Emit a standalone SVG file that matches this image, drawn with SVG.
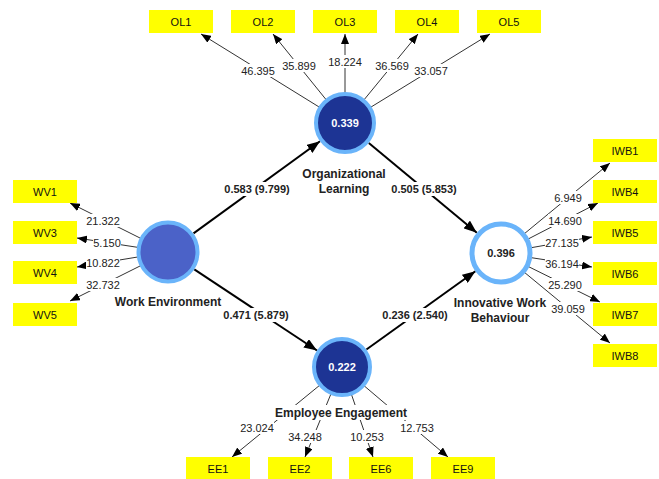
<svg xmlns="http://www.w3.org/2000/svg" width="659" height="479" viewBox="0 0 659 479">
<style>
text{font-family:"Liberation Sans",Arial,sans-serif;}
.box{fill:#ffff00;}
.bt{font-size:11px;fill:#111;text-anchor:middle;}
.ind{stroke:#333;stroke-width:1;fill:none;marker-end:url(#ah);}
.path{stroke:#000;stroke-width:2;fill:none;marker-end:url(#ahb);}
.num{font-size:11px;fill:#222;text-anchor:middle;}
.pl{font-size:11px;font-weight:bold;fill:#222;text-anchor:middle;}
.nl{font-size:12px;font-weight:bold;fill:#222;text-anchor:middle;}
.bg{fill:#fff;}
.val{font-size:11px;font-weight:bold;text-anchor:middle;}
</style>
<defs>
<marker id="ah" markerWidth="10" markerHeight="8" refX="10" refY="4" orient="auto" markerUnits="userSpaceOnUse"><path d="M0,0 L10,4 L0,8 z" fill="#000"/></marker>
<marker id="ahb" markerWidth="13" markerHeight="10" refX="13" refY="5" orient="auto" markerUnits="userSpaceOnUse"><path d="M0,0 L13,5 L0,10 z" fill="#000"/></marker>
</defs>
<rect width="659" height="479" fill="#fff"/>
<g id="connectors">
<!-- OL indicators -->
<line class="ind" x1="345" y1="123" x2="201" y2="34"/>
<line class="ind" x1="345" y1="123" x2="273" y2="34"/>
<line class="ind" x1="345" y1="123" x2="345" y2="34"/>
<line class="ind" x1="345" y1="123" x2="418" y2="34"/>
<line class="ind" x1="345" y1="123" x2="490" y2="34"/>
<!-- WV indicators -->
<line class="ind" x1="168" y1="252" x2="70" y2="203"/>
<line class="ind" x1="168" y1="252" x2="77" y2="238"/>
<line class="ind" x1="168" y1="252" x2="77" y2="267"/>
<line class="ind" x1="168" y1="252" x2="70" y2="301"/>
<!-- IWB indicators -->
<line class="ind" x1="501" y1="253" x2="610" y2="163"/>
<line class="ind" x1="501" y1="253" x2="598" y2="203"/>
<line class="ind" x1="501" y1="253" x2="592" y2="237"/>
<line class="ind" x1="501" y1="253" x2="592" y2="267"/>
<line class="ind" x1="501" y1="253" x2="600" y2="302"/>
<line class="ind" x1="501" y1="253" x2="610" y2="343"/>
<!-- EE indicators -->
<line class="ind" x1="342" y1="367" x2="232" y2="457"/>
<line class="ind" x1="342" y1="367" x2="305" y2="457"/>
<line class="ind" x1="342" y1="367" x2="373" y2="457"/>
<line class="ind" x1="342" y1="367" x2="448" y2="457"/>
<!-- structural paths -->
<line class="path" x1="193.5" y1="233.4" x2="320" y2="141.3"/>
<line class="path" x1="368.8" y1="142.9" x2="476.8" y2="232.8"/>
<line class="path" x1="194.3" y1="269.4" x2="317" y2="350.5"/>
<line class="path" x1="366.4" y1="349.5" x2="475.4" y2="271.3"/>
<!-- indicator labels -->
<rect class="bg" x="241" y="64" width="34" height="13"/><text class="num" x="258" y="75">46.395</text>
<rect class="bg" x="282" y="59" width="34" height="13"/><text class="num" x="299" y="70">35.899</text>
<rect class="bg" x="328" y="55" width="34" height="13"/><text class="num" x="345" y="66">18.224</text>
<rect class="bg" x="375" y="59" width="34" height="13"/><text class="num" x="392" y="70">36.569</text>
<rect class="bg" x="414" y="64" width="34" height="13"/><text class="num" x="431" y="75">33.057</text>
<rect class="bg" x="86" y="214" width="34" height="13"/><text class="num" x="103" y="225">21.322</text>
<rect class="bg" x="93" y="236" width="28" height="13"/><text class="num" x="107" y="247">5.150</text>
<rect class="bg" x="86" y="256" width="34" height="13"/><text class="num" x="103" y="267">10.822</text>
<rect class="bg" x="86" y="278" width="34" height="13"/><text class="num" x="103" y="289">32.732</text>
<rect class="bg" x="554" y="191" width="28" height="13"/><text class="num" x="568" y="202">6.949</text>
<rect class="bg" x="548" y="214" width="34" height="13"/><text class="num" x="565" y="225">14.690</text>
<rect class="bg" x="545" y="236" width="34" height="13"/><text class="num" x="562" y="247">27.135</text>
<rect class="bg" x="545" y="257" width="34" height="13"/><text class="num" x="562" y="268">36.194</text>
<rect class="bg" x="548" y="278" width="34" height="13"/><text class="num" x="565" y="289">25.290</text>
<rect class="bg" x="551" y="302" width="34" height="13"/><text class="num" x="568" y="313">39.059</text>
<rect class="bg" x="240" y="421" width="34" height="13"/><text class="num" x="257" y="432">23.024</text>
<rect class="bg" x="288" y="430" width="34" height="13"/><text class="num" x="305" y="441">34.248</text>
<rect class="bg" x="350" y="430" width="34" height="13"/><text class="num" x="367" y="441">10.253</text>
<rect class="bg" x="400" y="421" width="34" height="13"/><text class="num" x="417" y="432">12.753</text>
<!-- path labels -->
<rect class="bg" x="224" y="182" width="66" height="14"/><text class="pl" x="257" y="193">0.583 (9.799)</text>
<rect class="bg" x="391" y="182" width="66" height="14"/><text class="pl" x="424" y="193">0.505 (5.853)</text>
<rect class="bg" x="223" y="308" width="66" height="14"/><text class="pl" x="256" y="319">0.471 (5.879)</text>
<rect class="bg" x="382" y="308" width="66" height="14"/><text class="pl" x="415" y="319">0.236 (2.540)</text>
</g>
<g id="OL1"><rect class="box" x="149" y="10" width="64" height="23"/><text class="bt" x="181" y="25.5">OL1</text></g>
<g id="OL2"><rect class="box" x="231" y="10" width="64" height="23"/><text class="bt" x="263" y="25.5">OL2</text></g>
<g id="OL3"><rect class="box" x="313" y="10" width="64" height="23"/><text class="bt" x="345" y="25.5">OL3</text></g>
<g id="OL4"><rect class="box" x="395" y="10" width="64" height="23"/><text class="bt" x="427" y="25.5">OL4</text></g>
<g id="OL5"><rect class="box" x="477" y="10" width="64" height="23"/><text class="bt" x="509" y="25.5">OL5</text></g>
<g id="WV1"><rect class="box" x="13" y="180" width="64" height="23"/><text class="bt" x="45" y="195.5">WV1</text></g>
<g id="WV3"><rect class="box" x="13" y="221" width="64" height="23"/><text class="bt" x="45" y="236.5">WV3</text></g>
<g id="WV4"><rect class="box" x="13" y="261" width="64" height="23"/><text class="bt" x="45" y="276.5">WV4</text></g>
<g id="WV5"><rect class="box" x="13" y="303" width="64" height="23"/><text class="bt" x="45" y="318.5">WV5</text></g>
<g id="IWB1"><rect class="box" x="593" y="139" width="64" height="23"/><text class="bt" x="625" y="154.5">IWB1</text></g>
<g id="IWB4"><rect class="box" x="593" y="180" width="64" height="23"/><text class="bt" x="625" y="195.5">IWB4</text></g>
<g id="IWB5"><rect class="box" x="593" y="221" width="64" height="23"/><text class="bt" x="625" y="236.5">IWB5</text></g>
<g id="IWB6"><rect class="box" x="593" y="262" width="64" height="23"/><text class="bt" x="625" y="277.5">IWB6</text></g>
<g id="IWB7"><rect class="box" x="593" y="303" width="64" height="23"/><text class="bt" x="625" y="318.5">IWB7</text></g>
<g id="IWB8"><rect class="box" x="593" y="344" width="64" height="23"/><text class="bt" x="625" y="359.5">IWB8</text></g>
<g id="EE1"><rect class="box" x="186" y="457" width="64" height="23"/><text class="bt" x="218" y="472.5">EE1</text></g>
<g id="EE2"><rect class="box" x="268" y="457" width="64" height="23"/><text class="bt" x="300" y="472.5">EE2</text></g>
<g id="EE6"><rect class="box" x="349" y="457" width="64" height="23"/><text class="bt" x="381" y="472.5">EE6</text></g>
<g id="EE9"><rect class="box" x="431" y="457" width="64" height="23"/><text class="bt" x="463" y="472.5">EE9</text></g>
<g id="OrganizationalLearning">
<circle cx="345" cy="123" r="29" fill="#1d3494" stroke="#6ab4fa" stroke-width="4"/>
<text class="val" x="345" y="127" fill="#fff">0.339</text>
<text class="nl" x="344" y="178">Organizational</text>
<text class="nl" x="344" y="193">Learning</text>
</g>
<g id="WorkEnvironment">
<circle cx="168" cy="252" r="29.5" fill="#4b62c8" stroke="#6ab4fa" stroke-width="4"/>
<text class="nl" x="168" y="306">Work Environment</text>
</g>
<g id="InnovativeWorkBehaviour">
<circle cx="501" cy="253" r="29" fill="#fff" stroke="#6ab4fa" stroke-width="5"/>
<text class="val" x="501" y="257" fill="#222">0.396</text>
<text class="nl" x="500" y="307">Innovative Work</text>
<text class="nl" x="500" y="322">Behaviour</text>
</g>
<g id="EmployeeEngagement">
<circle cx="342" cy="367" r="28" fill="#1d3494" stroke="#6ab4fa" stroke-width="4"/>
<text class="val" x="342" y="371" fill="#fff">0.222</text>
<rect class="bg" x="276" y="405" width="132" height="15"/>
<text class="nl" x="341" y="417">Employee Engagement</text>
</g>
</svg>
